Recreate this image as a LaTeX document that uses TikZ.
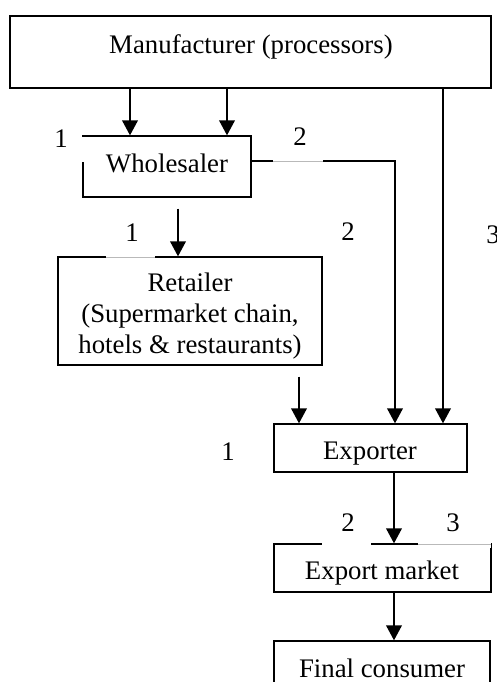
\documentclass[tikz,border=0pt]{standalone}
\usepackage{fontspec}
\setmainfont{Liberation Serif}
\usetikzlibrary{arrows.meta}

\begin{document}
\begin{tikzpicture}[
  x=0.5pt, y=-0.5pt,
  every node/.style={font=\fontsize{13.4}{15.5}\selectfont, inner sep=0pt},
  stagebox/.style={draw, line width=0.65pt, rectangle},
  caption/.style={anchor=base, align=center},
  tag/.style={anchor=center},
  flow/.style={line width=0.95pt, -{Triangle[width=7.8pt,length=7.5pt]}},
  faint/.style={draw=gray!55, line width=0.4pt},
]
\useasboundingbox (0,0) rectangle (497,682);

% stage boxes
\node[stagebox, minimum width=240.5pt, minimum height=36pt] (manu) at (250.5,52) {};
\node[stagebox, minimum width=84pt,    minimum height=30.5pt] (whole) at (167,166.5) {};
\node[stagebox, minimum width=132pt,   minimum height=54pt] (retail) at (190,311) {};
\node[stagebox, minimum width=96.5pt,  minimum height=24pt] (expo) at (370.5,448) {};
\node[stagebox, minimum width=108.5pt, minimum height=24pt] (market) at (382.5,568) {};
\node[stagebox, minimum width=108pt,   minimum height=40pt] (final) at (382,681) {};

% box texts
\node[caption] (manutext) at (251,53) {Manufacturer (processors)};
\node[caption] (wholetext) at (167,172) {Wholesaler};
\node[caption] (retailtext1) at (190,291) {Retailer};
\node[caption] (retailtext2) at (190,322) {(Supermarket chain,};
\node[caption] (retailtext3) at (190,353) {hotels \& restaurants)};
\node[caption] (expotext) at (370,459) {Exporter};
\node[caption] (markettext) at (382,579) {Export market};
\node[caption] (finaltext) at (382,677) {Final consumer};

% columns used by the connectors
\coordinate (c1) at (130,0);
\coordinate (c2) at (227,0);
\coordinate (c3) at (178,0);
\coordinate (c4) at (299,0);
\coordinate (c5) at (395,0);
\coordinate (c6) at (443,0);
\coordinate (c7) at (394,0);
\coordinate (r1) at (0,161);

% connectors
\draw[flow] (manu.south -| c1) -- (whole.north -| c1);
\draw[flow] (manu.south -| c2) -- (whole.north -| c2);
\draw[flow] (manu.south -| c6) -- (expo.north -| c6);
\draw[flow] (whole.east |- r1) -| (expo.north -| c5);
\draw[flow, shorten <=5.5pt] (whole.south -| c3) -- (retail.north -| c3);
\draw[flow, shorten <=5.5pt] (retail.south -| c4) -- (expo.north -| c4);
\draw[flow] (expo.south -| c7) -- (market.north -| c7);
\draw[flow] (market.south -| c7) -- (final.north -| c7);

% breaks left in lines by the number tags
\fill[white] (80,137.2) rectangle (86,162);
\fill[white] (273,157) rectangle (323,165);
\draw[faint] (273,161) -- (323,161);
\fill[white] (106,253) rectangle (155,261);
\draw[faint] (106,257) -- (155,257);
\fill[white] (322,540) rectangle (371,548);
\fill[white] (418,540) rectangle (490.5,548);
\draw[faint] (418,544) -- (491,544);

% number tags
\node[tag] (t1a) at (61,139) {1};
\node[tag] (t2a) at (300,137) {2};
\node[tag] (t1b) at (132,233) {1};
\node[tag] (t2b) at (348,232) {2};
\node[tag] (t3b) at (493,235) {3};
\node[tag] (t1c) at (228,452) {1};
\node[tag] (t2c) at (348,523) {2};
\node[tag] (t3c) at (453,523) {3};
\end{tikzpicture}
\end{document}
